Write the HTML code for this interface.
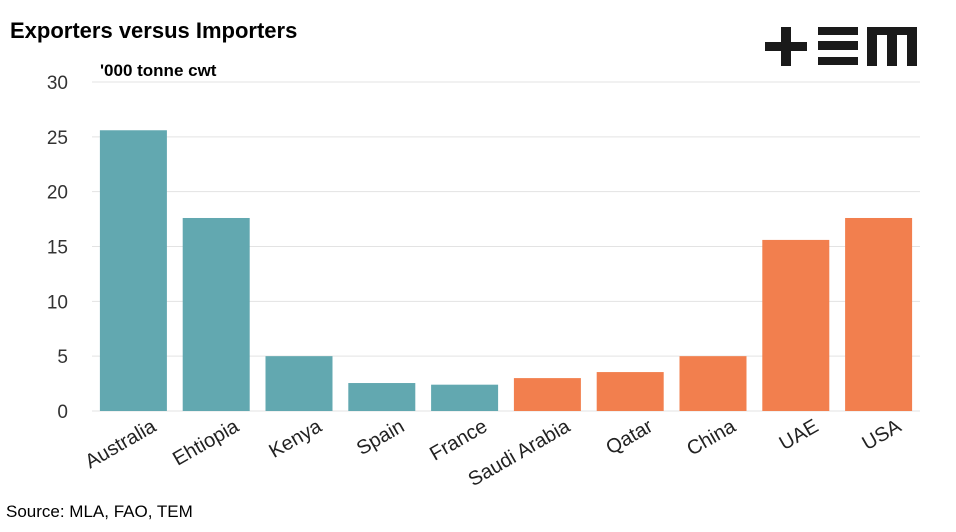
<!DOCTYPE html>
<html><head><meta charset="utf-8"><style>
body{margin:0;background:#fff;font-family:"Liberation Sans",sans-serif}
</style></head><body>
<svg width="956" height="527" xmlns="http://www.w3.org/2000/svg">
<text x="10" y="38" font-family="Liberation Sans" font-weight="bold" font-size="22" fill="#000">Exporters versus Importers</text>
<text x="100" y="76" font-family="Liberation Sans" font-weight="bold" font-size="17" fill="#000">'000 tonne cwt</text>
<g fill="#1a1a1a">
<rect x="765" y="42" width="42" height="9"/><rect x="781" y="27" width="10" height="39"/>
<rect x="818" y="27" width="40" height="8"/><rect x="818" y="41" width="40" height="9"/><rect x="818" y="57" width="40" height="8"/>
<rect x="867" y="27" width="50" height="8"/><rect x="867" y="27" width="10" height="39"/><rect x="887" y="27" width="10" height="39"/><rect x="907" y="27" width="10" height="39"/>
</g>
<g id="grid"></g><g id="bars"></g><g id="labels"></g>
<text x="6" y="517" font-family="Liberation Sans" font-size="17" fill="#000">Source: MLA, FAO, TEM</text>
</svg>
<script>
const categories=["Australia","Ehtiopia","Kenya","Spain","France","Saudi Arabia","Qatar","China","UAE","USA"];
const values=[25.6,17.6,5.0,2.55,2.4,3.0,3.55,5.0,15.6,17.6];
const groups=["exp","exp","exp","exp","exp","imp","imp","imp","imp","imp"];
const ticks=[0,5,10,15,20,25,30];
const ns="http://www.w3.org/2000/svg";
const x0=92,x1=920,yb=411,yt=82,ymax=30;
const band=(x1-x0)/categories.length,bw=67;
const y=v=>yb-(v/ymax)*(yb-yt);
const xc=i=>x0+band*(i+0.5);
function mk(t,a,p){const e=document.createElementNS(ns,t);for(const k in a)e.setAttribute(k,a[k]);p.appendChild(e);return e;}
const G=document.getElementById('grid'),B=document.getElementById('bars'),L=document.getElementById('labels');
ticks.forEach(t=>{
 const l=mk('line',{x1:x0,x2:x1,y1:y(t),y2:y(t),stroke:'#e3e3e3','stroke-width':1},G);
 
 
 const tx=mk('text',{x:68,y:y(t)+7,'text-anchor':'end','font-size':19,fill:'#333','font-family':'Liberation Sans'},G);
 tx.textContent=t;
 
 
});
categories.forEach((c,i)=>{
 const r=mk('rect',{x:xc(i)-bw/2,y:y(values[i]),width:bw,height:yb-y(values[i]),fill:groups[i]=='exp'?'#62a8b0':'#f27f4e'},B);
 
 
 const ax=xc(i)+24;
 const t=mk('text',{x:ax,y:430,'text-anchor':'end','font-size':20,fill:'#222','font-family':'Liberation Sans',transform:`rotate(-30 ${ax} 430)`},L);
 t.textContent=c;
 
 
});
</script>
</body></html>
